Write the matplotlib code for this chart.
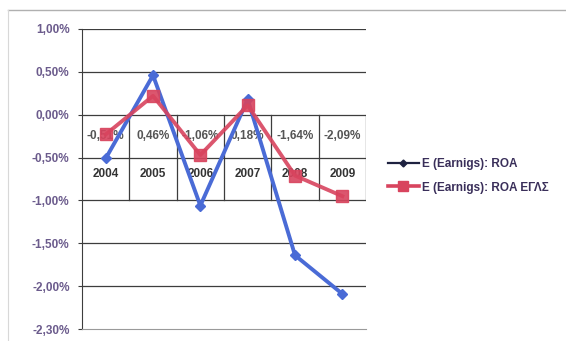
import matplotlib.pyplot as plt
from matplotlib.lines import Line2D

years = ['2004', '2005', '2006', '2007', '2008', '2009']
roa_e = [-0.51, 0.46, -1.06, 0.18, -1.64, -2.09]
roa_egls = [-0.23, 0.22, -0.47, 0.11, -0.71, -0.95]
roa_labels = ['-0,51%', '0,46%', '-1,06%', '0,18%', '-1,64%', '-2,09%']

y_ticks = [1.0, 0.5, 0.0, -0.5, -1.0, -1.5, -2.0, -2.5]
y_tick_labels = ['1,00%', '0,50%', '0,00%', '-0,50%', '-1,00%', '-1,50%', '-2,00%', '-2,30%']

series_names = ['Ε (Earnigs): ROA', 'Ε (Earnigs): ROA ΕΓΛΣ']

blue = '#4a6bd6'
red = '#d8445e'
label_col = '#6b5b8c'
grid_col = '#3d3d3d'

plt.rcParams['font.family'] = ['Liberation Sans', 'DejaVu Sans']

fig = plt.figure(figsize=(5.66, 3.41), dpi=100)
ax = fig.add_axes([0.1449, 0.035, 0.5018, 0.880])

x = list(range(len(years)))

# gridlines of the value axis
for v in y_ticks[:-1]:
    ax.axhline(v, color=grid_col, lw=0.9, zorder=1)

# embedded data table: cell borders between 0% and -1%
for k in range(len(years)):
    ax.plot([k + 0.5, k + 0.5], [0.0, -1.0], color=grid_col, lw=0.9, zorder=1)
for k, (yr, lab) in enumerate(zip(years, roa_labels)):
    ax.text(k, -0.25, lab, ha='center', va='center', fontsize=8.5,
            fontweight='bold', color='#555555', zorder=2)
    ax.text(k, -0.69, yr, ha='center', va='center', fontsize=8.5,
            fontweight='bold', color='#333333', zorder=2)

ax.plot(x, roa_e, color=blue, lw=2.8, marker='D', markersize=5,
        markerfacecolor=blue, markeredgecolor=blue, zorder=3)
ax.plot(x, roa_egls, color=red, lw=2.8, marker='s', markersize=8,
        markerfacecolor=red, markeredgecolor=red, alpha=0.9, zorder=4)

ax.set_xlim(-0.5, len(years) - 0.5)
ax.set_ylim(-2.5, 1.0)
ax.set_yticks(y_ticks)
ax.set_yticklabels(y_tick_labels, fontsize=8.5, fontweight='bold', color=label_col)
ax.set_xticks([])
ax.tick_params(axis='y', length=3, color=grid_col, pad=6)

for s in ['top', 'right']:
    ax.spines[s].set_visible(False)
ax.spines['left'].set_color(grid_col)
ax.spines['bottom'].set_color('#9a9a9a')

handles = [Line2D([], [], color='#1e2240', lw=1.6, marker='D', markersize=3.5),
           Line2D([], [], color=red, lw=2.6, marker='s', markersize=6.5)]
fig.legend(handles, series_names, loc='center left', bbox_to_anchor=(0.667, 0.485),
           frameon=False, handlelength=2.6, handletextpad=0.3, labelspacing=1.0,
           prop={'size': 8.5, 'weight': 'bold'}, labelcolor='#3a2f5a')

# faint outer chart frame
fig.add_artist(Line2D([0.014, 1.0], [0.972, 0.972], color='#b0b0b0', lw=1.0))
fig.add_artist(Line2D([0.014, 0.014], [0.972, 0.0], color='#d8d8d8', lw=0.8))

fig.savefig('out.png', dpi=100, facecolor='white')
